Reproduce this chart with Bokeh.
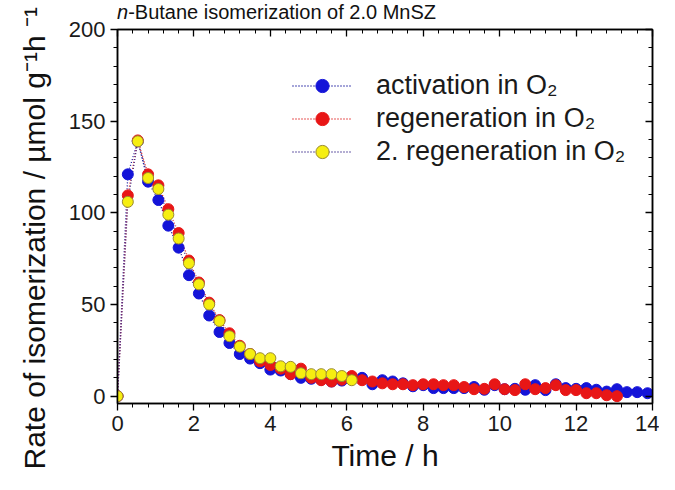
import math
from bokeh.plotting import figure
from bokeh.layouts import column
from bokeh.models import (LinearAxis, Legend, LegendItem, CustomJSTickFormatter,
                          Range1d, FixedTicker, Title, Div)
from bokeh.embed import file_html
from bokeh.resources import INLINE

# ---- data ----
time_h = [0, 0.27, 0.53, 0.8, 1.07, 1.33, 1.6, 1.87, 2.13, 2.4, 2.67, 2.93, 3.2, 3.47,
          3.73, 4.0, 4.27, 4.53, 4.8, 5.07, 5.33, 5.6, 5.87, 6.13, 6.4, 6.67, 6.93,
          7.2, 7.47, 7.73, 8.0, 8.27, 8.53, 8.8, 9.07, 9.33, 9.6, 9.87, 10.13, 10.4,
          10.67, 10.93, 11.2, 11.47, 11.73, 12.0, 12.27, 12.53, 12.8, 13.07, 13.33,
          13.6, 13.87]

activation = [0, 121, 139, 117, 107, 93, 81, 66, 56, 44, 35, 29, 23, 20.5, 18, 14.5, 14,
              12, 10, 9.5, 9, 8, 8.5, 9.5, 10, 6.5, 8.7, 8, 7, 5.4, 6, 4.4, 4.4, 4.4,
              4.4, 5, 3.5, 6, 3.8, 4, 3.5, 6, 3.3, 6.5, 4.4, 4, 4.4, 3.5, 2.5, 3.8,
              2.2, 2.2, 1.6]

regeneration = [0, 109.5, 139.5, 121, 115, 102, 89, 74, 62, 51, 41.5, 34.3, 27.5, 23, 19,
                17, 15, 12, 15, 10, 8.7, 8, 9, 11, 8.7, 8, 7, 6.5, 6.5, 6, 6.5, 6.5, 6,
                6, 5, 3.8, 4, 6.5, 3.8, 3.3, 6.5, 3.8, 4.4, 6, 3.3, 3.3, 1.6, 1.6, 0.5, 0]

regeneration2 = [0, 106, 139, 119, 113, 99, 86, 72.5, 61, 50, 41, 32.7, 27, 23, 20.7,
                 20.7, 16.3, 16, 12.5, 12, 12, 12, 11, 8.7]

series_labels = ["activation in O\u2082", "regeneration in O\u2082",
                 "2. regeneration in O\u2082"]

x_ticks = [0, 2, 4, 6, 8, 10, 12, 14]
y_ticks = [0, 50, 100, 150, 200]
x_minor = [i * 0.4 for i in range(36)]
y_minor = [i * 10 for i in range(21)]

FONT = "Liberation Sans"

title_div = Div(
    text=('<div style="font-family:\'Liberation Sans\'; font-size:20px; '
          'line-height:20px; padding-top:2px; color:#111111; white-space:nowrap;">'
          '<i>n</i>-Butane isomerization of 2.0 MnSZ</div>'),
    width=530, height=22, margin=(0, 0, 0, 117))

p = figure(width=659, height=474, x_range=Range1d(0, 14), y_range=Range1d(-4, 200),
           output_backend="svg", toolbar_location=None,
           min_border_left=109, min_border_right=7, min_border_top=29,
           min_border_bottom=70, margin=(-22, 0, 0, 0))
p.border_fill_color = None
p.background_fill_color = "white"
p.xgrid.visible = False
p.ygrid.visible = False
p.outline_line_color = "black"
p.outline_line_width = 1.5

p.xaxis.ticker = FixedTicker(ticks=x_ticks, minor_ticks=x_minor)
p.yaxis.ticker = FixedTicker(ticks=y_ticks, minor_ticks=y_minor)
for ax in (p.xaxis[0], p.yaxis[0]):
    ax.axis_line_width = 1.5
    ax.axis_line_color = "black"
    ax.major_tick_line_color = "black"
    ax.minor_tick_line_color = "black"
    ax.major_tick_out = 7
    ax.major_tick_in = 0
    ax.minor_tick_out = 4
    ax.minor_tick_in = 0
    ax.major_tick_line_width = 1.3
    ax.minor_tick_line_width = 1
    ax.major_label_text_font = FONT
    ax.major_label_text_font_size = "22px"
    ax.major_label_text_color = "#1a1a1a"
    ax.major_label_standoff = 5

p.xaxis.axis_label = "Time / h"
p.xaxis.axis_label_text_font = FONT
p.xaxis.axis_label_text_font_size = "30px"
p.xaxis.axis_label_text_font_style = "normal"
p.xaxis.axis_label_text_color = "#111111"
p.xaxis.axis_label_standoff = 5

blank = CustomJSTickFormatter(code="return ''")
top = LinearAxis(ticker=FixedTicker(ticks=x_ticks, minor_ticks=x_minor), formatter=blank)
right = LinearAxis(ticker=FixedTicker(ticks=y_ticks, minor_ticks=y_minor), formatter=blank)
for ax in (top, right):
    ax.axis_line_width = 1.5
    ax.major_tick_out = 0
    ax.major_tick_in = 7
    ax.minor_tick_out = 0
    ax.minor_tick_in = 4
    ax.major_tick_line_width = 1.3
    ax.major_label_standoff = 0
p.add_layout(top, "above")
p.add_layout(right, "right")

# lines then markers
line_colors = ["#10109a", "#e02020", "#3a2a8a"]
fills = ["#1414d8", "#e81616", "#f6ee10"]
edges = ["#1414d8", "#e81616", "#9a8a30"]
ys = [activation, regeneration, regeneration2]

lines = []
for y, lc in zip(ys, line_colors):
    lines.append(p.line(time_h[:len(y)], y, line_color=lc, line_dash="1 2",
                        line_width=1.3))
marks = []
for y, fc, ec in zip(ys, fills, edges):
    marks.append(p.scatter(time_h[:len(y)], y, size=11, fill_color=fc, line_color=ec,
                           line_width=1))

items = [LegendItem(label=lab, renderers=[l, m])
         for lab, l, m in zip(series_labels, lines, marks)]
legend = Legend(items=items, location=(175, 235))
legend.border_line_alpha = 0
legend.background_fill_alpha = 0
legend.padding = 0
legend.margin = 0
legend.spacing = 0
legend.glyph_width = 60
legend.glyph_height = 33
legend.label_height = 33
legend.label_standoff = 24
legend.label_text_font = FONT
legend.label_text_font_size = "27px"
legend.label_text_color = "#1a1a1a"
p.add_layout(legend, "center")

# y axis label as a side title
p.add_layout(Title(text="Rate of isomerization / \u00b5mol g\u207b\u00b9h \u207b\u00b9",
                   align="left", offset=-66, standoff=30,
                   text_font=FONT, text_font_size="30px", text_font_style="normal",
                   text_color="#111111"), "left")

layout = column(title_div, p, spacing=0)
open("out.html", "w").write(file_html(layout, INLINE))
